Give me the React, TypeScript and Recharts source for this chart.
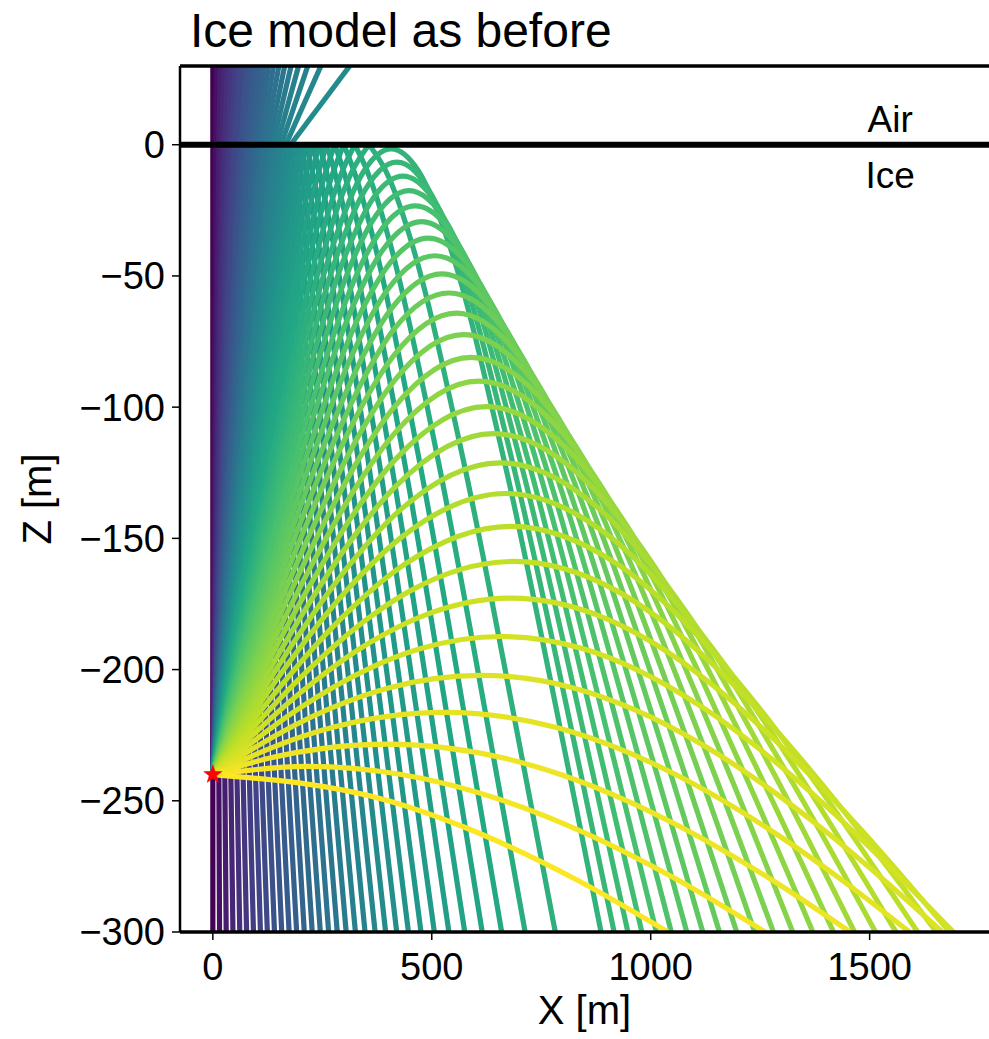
import React from 'react';
import { ComposedChart, Line, XAxis, YAxis, ReferenceLine, ReferenceDot } from 'recharts';

type Pt = [number, number];

// ray paths as [x, z] in metres; rays are ordered by launch angle
const verticalRay: Pt[] = [[0, -300], [0, 30]];

// launched steeply: up to the surface, reflected back down to the bottom
const reflectedRays: Pt[][] = [
  [[0, -240], [3.2, -120], [5.5, -40], [6.8, 0], [8.1, -40], [10.4, -120], [13.7, -240], [15.3, -300]],
  [[0, -240], [6.5, -120], [11.1, -40], [13.7, 0], [16.3, -40], [20.9, -120], [27.3, -240], [30.5, -300]],
  [[0, -240], [9.7, -120], [16.7, -40], [20.6, 0], [24.5, -40], [31.4, -120], [41.1, -240], [45.9, -300]],
  [[0, -240], [13, -120], [22.3, -40], [27.5, 0], [32.8, -40], [42, -120], [55, -240], [61.5, -300]],
  [[0, -240], [16.3, -120], [27.9, -40], [34.5, 0], [41.1, -40], [52.7, -120], [69, -240], [77.1, -300]],
  [[0, -240], [19.6, -120], [33.6, -40], [41.6, 0], [49.6, -40], [63.6, -120], [83.2, -240], [92.8, -300]],
  [[0, -240], [22.9, -120], [39.3, -40], [48.7, 0], [58.1, -40], [74.5, -120], [97.4, -240], [108.8, -300]],
  [[0, -240], [26.3, -120], [45.1, -40], [55.8, 0], [66.4, -40], [85.2, -120], [111.5, -240], [124.5, -300]],
  [[0, -240], [29.7, -120], [51, -40], [63.1, 0], [75.1, -40], [96.4, -120], [126.1, -240], [140.8, -300]],
  [[0, -240], [33.2, -120], [56.9, -40], [70.5, 0], [84, -40], [107.7, -120], [140.9, -240], [157.3, -300]],
  [[0, -240], [36.7, -120], [63, -40], [78, 0], [93.1, -40], [119.4, -120], [156.1, -240], [174.2, -300]],
  [[0, -240], [40.3, -120], [69.2, -40], [85.8, 0], [102.3, -40], [131.2, -120], [171.5, -240], [191.4, -300]],
  [[0, -240], [43.9, -120], [75.5, -40], [93.7, 0], [111.8, -40], [143.4, -120], [187.3, -240], [208.9, -300]],
  [[0, -240], [47.7, -120], [81.9, -40], [101.8, 0], [121.6, -40], [155.8, -120], [203.5, -240], [227, -300]],
  [[0, -240], [51.5, -120], [88.5, -40], [110.1, 0], [131.6, -40], [168.7, -120], [220.1, -240], [245.5, -300]],
  [[0, -240], [55.4, -120], [95.3, -40], [118.6, 0], [142, -40], [181.9, -120], [237.3, -240], [264.5, -300]],
  [[0, -240], [59.3, -120], [102.3, -40], [127.5, 0], [152.7, -40], [195.6, -120], [255, -240], [284.1, -300]],
  [[0, -240], [63.4, -120], [109.5, -40], [136.6, 0], [163.8, -40], [209.9, -120], [273.3, -240], [304.5, -300]],
  [[0, -240], [67.7, -120], [116.9, -40], [146.2, 0], [175.5, -40], [224.7, -120], [292.3, -240], [325.6, -300]],
  [[0, -240], [72, -120], [124.6, -40], [156.1, 0], [187.6, -40], [240.2, -120], [312.2, -240], [347.6, -300]],
  [[0, -240], [76.5, -120], [132.6, -40], [166.5, 0], [200.5, -40], [256.5, -120], [333, -240], [370.6, -300]],
  [[0, -240], [81.2, -120], [140.9, -40], [177.4, 0], [213.9, -40], [273.6, -120], [354.8, -240], [394.6, -300]],
  [[0, -240], [86, -120], [149.5, -40], [168, -20], [188.9, 0], [209.8, -20], [228.2, -40], [291.8, -120], [377.8, -240], [419.9, -300]],
  [[0, -240], [91, -120], [158.6, -40], [178.4, -20], [201.1, 0], [223.8, -20], [243.5, -40], [311.1, -120], [402.2, -240], [446.7, -300]],
  [[0, -240], [96.3, -120], [168.2, -40], [189.4, -20], [214.1, 0], [238.8, -20], [260.1, -40], [331.9, -120], [428.3, -240], [475.4, -300]],
  [[0, -240], [101.8, -120], [178.3, -40], [201.1, -20], [213.9, -10], [228.1, 0], [242.3, -10], [255.1, -20], [277.9, -40], [354.4, -120], [456.2, -240], [505.9, -300]],
  [[0, -240], [107.6, -120], [189, -40], [213.6, -20], [227.6, -10], [243.3, 0], [259, -10], [273, -20], [297.6, -40], [379, -120], [486.6, -240], [539.1, -300]],
  [[0, -240], [113.7, -120], [200.3, -40], [227, -20], [242.3, -10], [259.9, 0], [277.5, -10], [292.8, -20], [319.5, -40], [406.2, -120], [519.8, -240], [575.3, -300]],
  [[0, -240], [120.1, -120], [212.5, -40], [241.5, -20], [258.4, -10], [278.4, 0], [298.4, -10], [315.3, -20], [344.3, -40], [436.7, -120], [556.8, -240], [615.2, -300]],
  [[0, -240], [126.8, -120], [225.3, -40], [256.9, -20], [275.8, -10], [299, 0], [322.2, -10], [341.1, -20], [372.7, -40], [471.2, -120], [598, -240], [659.6, -300]],
  [[0, -240], [134, -120], [239.5, -40], [274.3, -20], [295.8, -10], [324.1, 0], [352.4, -10], [373.9, -20], [408.7, -40], [514.2, -120], [648.2, -240], [713.2, -300]],
  [[0, -240], [141.7, -120], [254.7, -40], [293.4, -20], [318.5, -10], [356.7, 0], [394.9, -10], [420, -20], [458.7, -40], [571.8, -120], [713.4, -240], [782, -300]],
];

// transmitted part above the surface, same order as the first reflected rays
const airRays: Pt[][] = [
  [[6.8, 0], [8.2, 30]], [[13.7, 0], [16.5, 30]], [[20.6, 0], [24.9, 30]], [[27.5, 0], [33.2, 30]],
  [[34.5, 0], [41.7, 30]], [[41.6, 0], [50.4, 30]], [[48.7, 0], [59.1, 30]], [[55.8, 0], [67.9, 30]],
  [[63.1, 0], [76.9, 30]], [[70.5, 0], [86.2, 30]], [[78, 0], [95.8, 30]], [[85.8, 0], [105.8, 30]],
  [[93.7, 0], [116.1, 30]], [[101.8, 0], [127, 30]], [[110.1, 0], [138.4, 30]], [[118.6, 0], [150.7, 30]],
  [[127.5, 0], [164, 30]], [[136.6, 0], [178.7, 30]], [[146.2, 0], [195.8, 30]], [[156.1, 0], [216.8, 30]],
  [[166.5, 0], [246.8, 30]], [[177.4, 0], [312.6, 30]],
];

// shallow launch: bent back down below the surface
const bentRays: Pt[][] = [
  [[0, -240], [149.7, -120], [271, -40], [345.1, -10], [407.3, -1.6], [469.5, -10], [543.7, -40], [664.9, -120], [814.6, -240], [886.6, -300]],
  [[0, -240], [157.9, -120], [288.2, -40], [338.2, -20], [420.4, -6.6], [502.6, -20], [552.6, -40], [683, -120], [840.8, -240], [916.5, -300]],
  [[0, -240], [166.8, -120], [307.9, -40], [367.8, -20], [434.1, -12], [500.4, -20], [560.3, -40], [701.5, -120], [868.3, -240], [947.9, -300]],
  [[0, -240], [176.4, -120], [330.2, -40], [361, -30], [448, -17.5], [534.9, -30], [565.7, -40], [719.6, -120], [895.9, -240], [979.8, -300]],
  [[0, -240], [186.8, -120], [356.4, -40], [395.8, -30], [462.2, -23.3], [528.7, -30], [568.1, -40], [737.7, -120], [924.4, -240], [1012.9, -300]],
  [[0, -240], [198.2, -120], [324.2, -60], [388.5, -40], [476.8, -29.3], [565.1, -40], [629.5, -60], [755.5, -120], [953.7, -240], [1047, -300]],
  [[0, -240], [210.8, -120], [349.7, -60], [405, -45], [491.8, -35.6], [578.6, -45], [633.9, -60], [772.8, -120], [983.6, -240], [1082.3, -300]],
  [[0, -240], [224.8, -120], [318.3, -80], [400.2, -55], [507.2, -42.3], [614.2, -55], [696.1, -80], [789.6, -120], [1014.4, -240], [1118.9, -300]],
  [[0, -240], [240.6, -120], [344.4, -80], [410, -62], [523.1, -49.2], [636.1, -62], [701.8, -80], [805.6, -120], [1046.1, -240], [1157, -300]],
  [[0, -240], [258.5, -120], [341.7, -90], [415.2, -70], [539.3, -56.5], [663.4, -70], [736.9, -90], [820.1, -120], [1078.6, -240], [1196.4, -300]],
  [[0, -240], [279.1, -120], [338.9, -100], [414.9, -80], [555.9, -64.2], [697, -80], [772.9, -100], [832.7, -120], [1111.9, -240], [1237.5, -300]],
  [[0, -240], [244.8, -140], [336, -110], [414.2, -90], [572.9, -72.4], [731.7, -90], [809.9, -110], [901.1, -140], [1145.9, -240], [1280.3, -300]],
  [[0, -240], [236.2, -150], [332.6, -120], [414.2, -100], [590.1, -81], [766.1, -100], [847.7, -120], [944.1, -150], [1180.3, -240], [1324.4, -300]],
  [[0, -240], [226.2, -160], [328.7, -130], [415, -110], [607.5, -90.1], [800, -110], [886.2, -130], [988.7, -160], [1214.9, -240], [1370.3, -300]],
  [[0, -240], [214.4, -170], [324.3, -140], [416.5, -120], [624.7, -99.8], [832.8, -120], [925, -140], [1034.9, -170], [1249.3, -240], [1417.4, -300]],
  [[0, -240], [200.3, -180], [319, -150], [418.8, -130], [641.3, -110.1], [863.7, -130], [963.5, -150], [1082.2, -180], [1282.5, -240], [1465.4, -300]],
  [[0, -240], [183.2, -190], [312.7, -160], [422.4, -140], [656.5, -121.2], [890.7, -140], [1000.4, -160], [1129.8, -190], [1313.1, -240], [1513.4, -300]],
  [[0, -240], [162.3, -200], [304.8, -170], [427.4, -150], [669.6, -132.9], [911.7, -150], [1034.3, -170], [1176.9, -200], [1339.2, -240], [1560.2, -300]],
  [[0, -240], [136.7, -210], [296, -180], [436.8, -160], [681.2, -145.4], [925.5, -160], [1066.4, -180], [1225.7, -210], [1362.4, -240], [1609.5, -300]],
  [[0, -240], [103.6, -220], [218.9, -200], [358.4, -180], [450.6, -170], [686.5, -158.8], [922.5, -170], [1014.7, -180], [1154.2, -200], [1269.5, -220], [1373.1, -240], [1470, -260], [1652.4, -300]],
  [[0, -240], [90.9, -225], [228, -205], [355.7, -190], [472.9, -180], [681.4, -172.8], [889.8, -180], [1007, -190], [1134.7, -205], [1271.8, -225], [1362.8, -240], [1475, -260], [1682.5, -300]],
  [[0, -240], [72.8, -230], [195.5, -215], [351.5, -200], [475, -192], [659.6, -187.4], [844.1, -192], [967.7, -200], [1123.7, -215], [1246.4, -230], [1319.2, -240], [1452.2, -260], [1691.3, -300]],
  [[0, -240], [93.1, -230], [265.6, -215], [401, -207], [612.3, -202.2], [823.6, -207], [959, -215], [1131.6, -230], [1224.7, -240], [1386.9, -260], [1531.3, -280], [1665.8, -300]],
  [[0, -240], [131, -230], [274.1, -222], [528.4, -216.3], [782.7, -222], [925.8, -230], [1056.8, -240], [1262.4, -260], [1434.9, -280], [1591.1, -300]],
  [[0, -240], [122.6, -234], [397.1, -228.4], [671.6, -234], [794.2, -240], [945.9, -250], [1068.7, -260], [1275.2, -280], [1455.4, -300]],
  [[0, -240], [215.3, -236.9], [430.6, -240], [664.6, -250], [819.4, -260], [1060.1, -280], [1261.4, -300]],
  [[0, -240], [400.8, -250], [573.3, -260], [829.5, -280], [1039.5, -300]],
];

const source: Pt = [0, -240];
const xTicks = [0, 500, 1000, 1500];
const zTicks = [-300, -250, -200, -150, -100, -50, 0];

const FONT = '"Liberation Sans", Arial, sans-serif';

// viridis, sampled every 0.1
const VIRIDIS = ['#440154', '#482475', '#414487', '#355f8d', '#2a788e', '#21918c', '#22a884', '#44bf70', '#7ad151', '#bddf26', '#fde725'];

function viridis(t: number) {
  const s = Math.max(0, Math.min(1, t)) * 10;
  const i = Math.min(9, Math.floor(s));
  const f = s - i;
  const a = VIRIDIS[i];
  const b = VIRIDIS[i + 1];
  const ch = (h: string, o: number) => parseInt(h.slice(o, o + 2), 16);
  const mix = (o: number) => Math.round(ch(a, o) + (ch(b, o) - ch(a, o)) * f);
  return `rgb(${mix(1)},${mix(3)},${mix(5)})`;
}

type Series = { key: string; rows: { x: number; z: number }[]; color: string; curve: 'linear' | 'monotone' };

const rows = (pts: Pt[]) => pts.map(([x, z]) => ({ x, z }));
const lastRay = reflectedRays.length + bentRays.length;
// colour runs with launch angle, a little faster at first
const rayColor = (k: number) => viridis(Math.pow(k / lastRay, 0.75));

const series: Series[] = [];
series.push({ key: 'ray-0', rows: rows(verticalRay), color: rayColor(0), curve: 'linear' });
reflectedRays.forEach((ray, i) => {
  const color = rayColor(i + 1);
  const top = ray.findIndex((p) => p[1] === 0);
  series.push({ key: `up-${i}`, rows: rows(ray.slice(0, top + 1)), color, curve: 'monotone' });
  series.push({ key: `down-${i}`, rows: rows(ray.slice(top)), color, curve: 'monotone' });
  if (airRays[i]) series.push({ key: `air-${i}`, rows: rows(airRays[i]), color, curve: 'linear' });
});
bentRays.forEach((ray, j) => {
  series.push({ key: `bent-${j}`, rows: rows(ray), color: rayColor(reflectedRays.length + 1 + j), curve: 'monotone' });
});

const fmtZ = (v: number) => (v < 0 ? `\u2212${-v}` : `${v}`);

function Star({ cx, cy }: any) {
  const pts: string[] = [];
  for (let i = 0; i < 10; i++) {
    const r = i % 2 ? 3.8 : 9.5;
    const a = ((-90 + i * 36) * Math.PI) / 180;
    pts.push(`${cx + r * Math.cos(a)},${cy + r * Math.sin(a)}`);
  }
  return <polygon points={pts.join(' ')} fill="#ff0000" stroke="#ff0000" strokeWidth={0.6} />;
}

function ZLabel({ viewBox }: any) {
  const x = viewBox.x + 37;
  const y = viewBox.y + viewBox.height / 2;
  return (
    <text x={x} y={y} transform={`rotate(-90 ${x} ${y})`} textAnchor="middle" dominantBaseline="central"
      fontSize={40} fontFamily={FONT} fill="#000">
      Z [m]
    </text>
  );
}

export default function App() {
  return (
    <div style={{ position: 'fixed', left: 0, top: 0, width: 989, height: 1039, overflow: 'hidden', background: '#fff' }}>
      <div style={{ position: 'absolute', left: 190, top: 7, fontSize: 48, lineHeight: '48px', fontFamily: FONT, color: '#000', whiteSpace: 'nowrap' }}>
        Ice model as before
      </div>
      <ComposedChart width={1001} height={1039} margin={{ top: 36, right: 0, bottom: 7, left: 0 }}>
        <XAxis
          type="number"
          dataKey="x"
          domain={[-75, 1800]}
          allowDataOverflow
          ticks={xTicks}
          interval={0}
          height={100}
          tickSize={8}
          tickMargin={13}
          axisLine={{ stroke: '#000', strokeWidth: 3.5 }}
          tickLine={{ stroke: '#000', strokeWidth: 1.5 }}
          tick={{ fontSize: 38, fill: '#000', fontFamily: FONT }}
          label={{ value: 'X [m]', position: 'insideBottom', offset: 8, dx: -6, fontSize: 40, fill: '#000', fontFamily: FONT }}
        />
        <XAxis
          xAxisId="top"
          orientation="top"
          type="number"
          domain={[-75, 1800]}
          allowDataOverflow
          ticks={xTicks}
          interval={0}
          height={30}
          tickSize={8}
          tickFormatter={() => ''}
          axisLine={{ stroke: '#000', strokeWidth: 3.5 }}
          tickLine={{ stroke: '#000', strokeWidth: 1.5 }}
        />
        <YAxis
          type="number"
          domain={[-300, 30]}
          allowDataOverflow
          ticks={zTicks}
          interval={0}
          width={180}
          tickSize={8}
          tickMargin={7}
          tickFormatter={fmtZ}
          axisLine={{ stroke: '#000', strokeWidth: 2.5 }}
          tickLine={{ stroke: '#000', strokeWidth: 1.5 }}
          tick={{ fontSize: 38, fill: '#000', fontFamily: FONT }}
          label={{ content: ZLabel }}
        />
        {series.map((s) => (
          <Line
            key={s.key}
            data={s.rows}
            dataKey="z"
            type={s.curve}
            stroke={s.color}
            strokeWidth={5.2}
            dot={false}
            activeDot={false}
            legendType="none"
            isAnimationActive={false}
          />
        ))}
        <ReferenceLine y={0} stroke="#000" strokeWidth={6} />
        <ReferenceDot x={1547} y={9.8} r={0} fill="none" stroke="none"
          label={{ value: 'Air', position: 'center', fontSize: 37, fill: '#000', fontFamily: FONT }} />
        <ReferenceDot x={1547} y={-11.5} r={0} fill="none" stroke="none"
          label={{ value: 'Ice', position: 'center', fontSize: 37, fill: '#000', fontFamily: FONT }} />
        <ReferenceDot x={source[0]} y={source[1]} r={10} shape={Star} />
      </ComposedChart>
    </div>
  );
}
